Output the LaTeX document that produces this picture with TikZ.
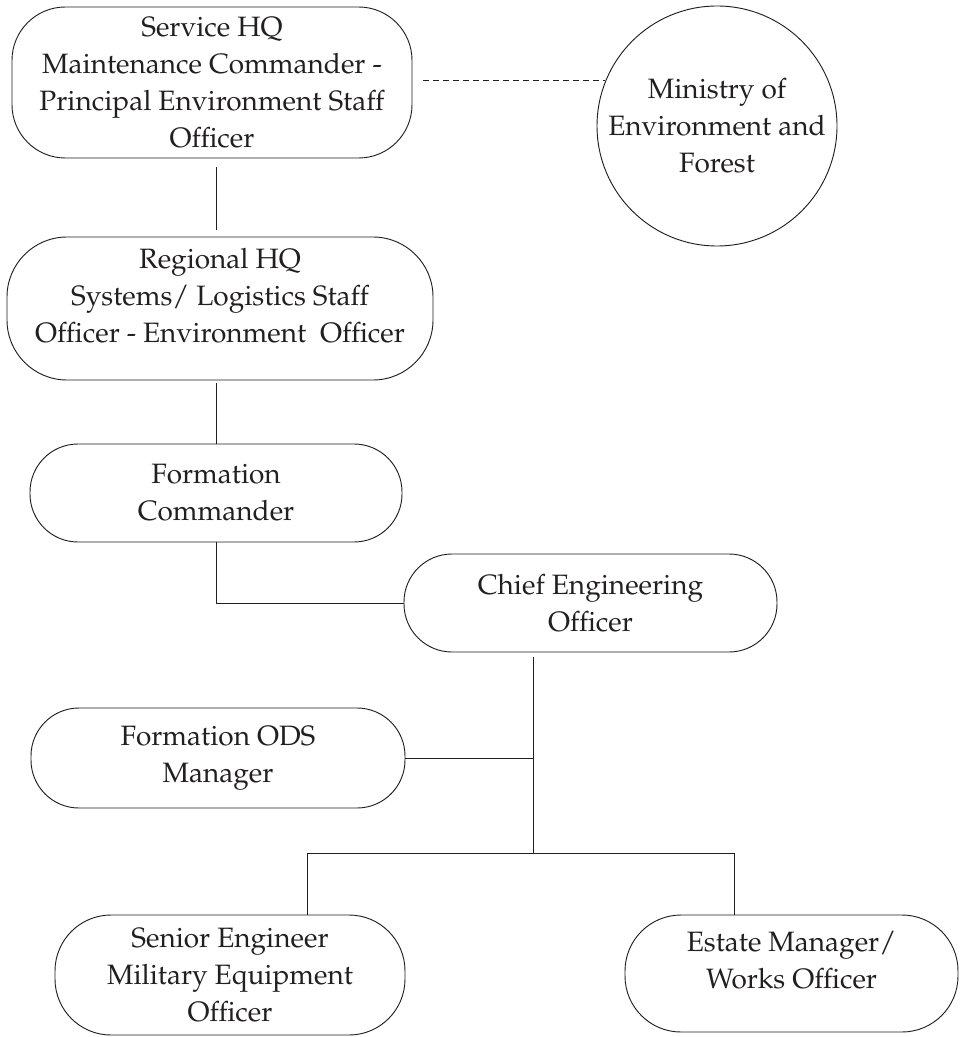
\documentclass[tikz,border=0pt]{standalone}
\usepackage[T1]{fontenc}
\usepackage{mathpazo}
\usepackage{tikz}

\definecolor{inkgrey}{RGB}{35,31,32}
\tikzset{
  orgbox/.style={draw=inkgrey, line width=0.7pt, rounded corners=36pt, align=center,
    text=inkgrey, inner sep=0pt, font=\fontsize{21}{27.75}\selectfont},
  orgline/.style={draw=inkgrey, line width=0.7pt}
}

\begin{document}
\begin{tikzpicture}[x=0.75pt,y=0.75pt,yscale=-1,xscale=1]
\useasboundingbox (0,0) rectangle (960,1037);

%Shape: Rounded Rect
\node [orgbox, rounded corners=40pt, minimum width=300pt, minimum height=113.25pt] (shq) at (212,82.5)
  {Service HQ\\ Maintenance Commander -\\ Principal Environment Staff\\ Officer};
%Shape: Circle
\node [orgbox, circle, rounded corners=0pt, minimum size=180pt] (moef) at (717,126)
  {Ministry of\\ Environment and\\ Forest};
%Shape: Rounded Rect
\node [orgbox, rounded corners=45pt, minimum width=319.5pt, minimum height=107.25pt] (rhq) at (220,308.5)
  {Regional HQ\\ Systems/ Logistics Staff\\ Officer - Environment\ \ Officer\\[-7.75pt]\mbox{}};
%Shape: Rounded Rect
\node [orgbox, minimum width=279pt, minimum height=73.5pt] (fc) at (216,493)
  {Formation\\ Commander};
%Shape: Rounded Rect
\node [orgbox, minimum width=279.75pt, minimum height=73.5pt] (ceo) at (590.5,603)
  {Chief Engineering\\ Officer};
%Shape: Rounded Rect
\node [orgbox, minimum width=280.5pt, minimum height=75pt] (ods) at (218,758)
  {Formation ODS\\ Manager};
%Shape: Rounded Rect
\node [orgbox, rounded corners=42pt, minimum width=262.5pt, minimum height=90pt] (sen) at (230,975)
  {Senior Engineer\\ Military Equipment\\ Officer};
%Shape: Rounded Rect
\node [orgbox, rounded corners=42pt, minimum width=249.75pt, minimum height=87.75pt] (est) at (791.5,973.5)
  {Estate Manager/\\ Works Officer\\[-7.75pt]\mbox{}};

% joints of the lower tree
\coordinate (hub) at (533,853);
\coordinate (barl) at (307,853);
\coordinate (barr) at (734,853);

%Straight Lines
\draw [orgline, dash pattern={on 4.5pt off 3pt}, shorten <=8pt] (shq.east |- moef.158) -- (moef.158);
\draw [orgline, shorten <=6.5pt, shorten >=5pt] (shq.south -| fc) -- (rhq.north -| fc);
\draw [orgline, shorten <=2pt] (rhq.south -| fc) -- (fc.north);
\draw [orgline] (fc.south) |- (ceo.west);
\draw [orgline, shorten <=3.5pt] (ceo.south -| hub) -- (hub);
\draw [orgline] (ods.east) -- (ods.east -| hub);
\draw [orgline] (barl) -- (barr);
\draw [orgline] (barl) -- (barl |- sen.north);
\draw [orgline] (barr) -- (barr |- est.north);

\end{tikzpicture}
\end{document}
